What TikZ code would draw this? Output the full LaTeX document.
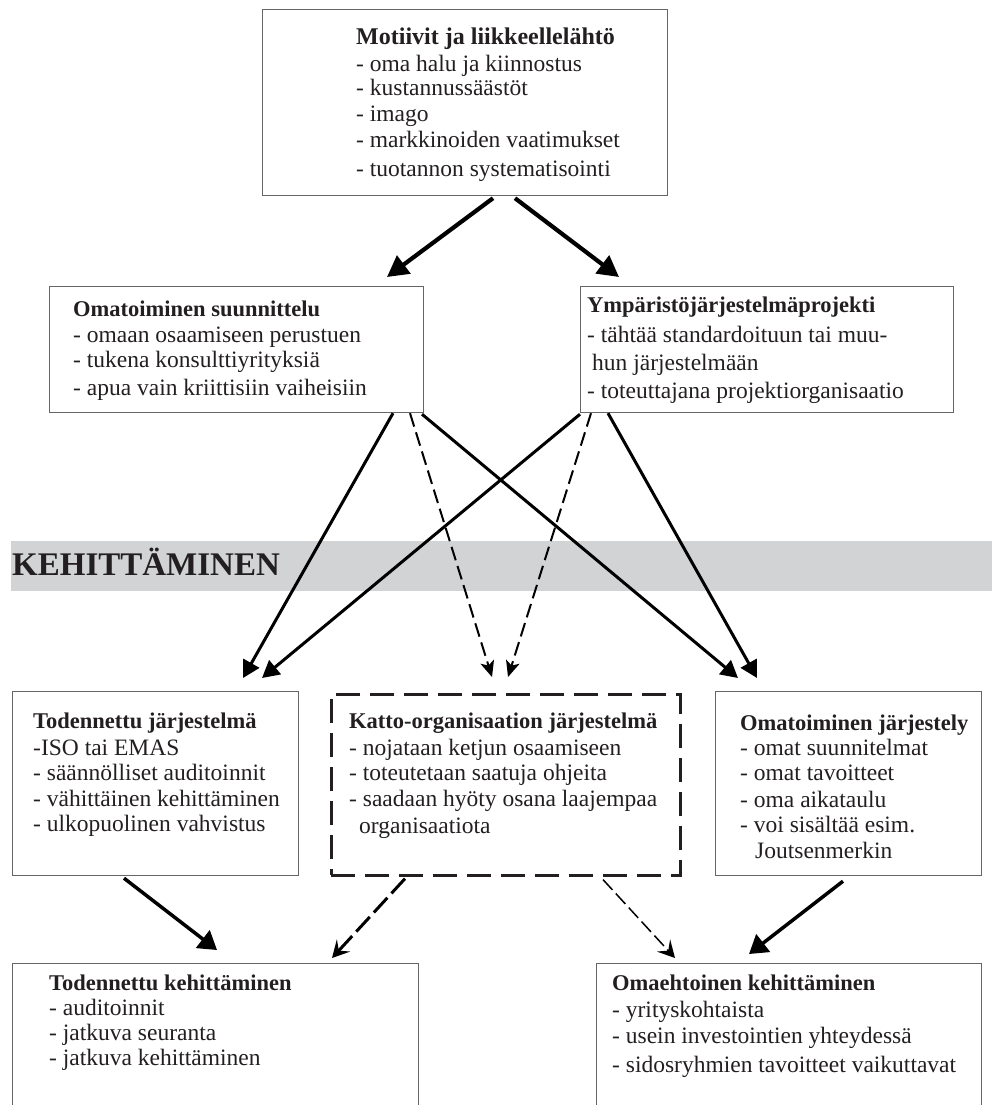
\documentclass[tikz,border=0pt]{standalone}
\usepackage{fontspec}
\setmainfont{Liberation Serif}
\usetikzlibrary{arrows.meta,calc}
\definecolor{ink}{HTML}{231F20}
\definecolor{bandgray}{HTML}{D1D3D4}
\definecolor{frame}{HTML}{666666}
\newcommand\mylines[1]{\begin{tabular}[t]{@{}l@{}}#1\end{tabular}}
\newcommand\ttl[1]{{\fontsize{22.5}{24}\selectfont\bfseries #1}}
\begin{document}
\begin{tikzpicture}[x=1pt,y=-1pt,
  box/.style={draw=frame, line width=1.2pt, inner sep=0pt, anchor=north west},
  dbox/.style={draw=ink, line width=2.6pt, dash pattern=on 24pt off 10pt, inner sep=0pt, anchor=north west},
  txt/.style={anchor=base west, inner sep=0pt, text=ink, font=\fontsize{23.5}{24}\selectfont},
  bigarr/.style={draw=black, line width=4.2pt, -{Triangle[length=21pt,width=22pt]}},
  midarr/.style={draw=black, line width=3pt, -{Triangle[length=17pt,width=18pt]}},
  lowarr/.style={draw=black, line width=3.5pt, -{Triangle[length=18pt,width=22pt]}},
  middash/.style={draw=black, line width=2pt, dash pattern=on 14pt off 6pt, -{Stealth[length=16pt,width=14pt,inset=4pt]}},
  lowdash/.style={draw=black, line width=3pt, dash pattern=on 20pt off 6pt, -{Stealth[length=17pt,width=18pt,inset=7pt]}},
  thindash/.style={draw=black, line width=1.5pt, dash pattern=on 14pt off 5pt, -{Stealth[length=17pt,width=18pt,inset=7pt]}}
]
\useasboundingbox (0,0) rectangle (992,1105);

% grey band
\node[fill=bandgray, anchor=north west, inner sep=0pt, minimum width=981pt, minimum height=50pt] (band) at (11,541) {};
\node[anchor=base west, inner sep=0pt, text=ink, font=\fontsize{33}{36}\selectfont\bfseries] (bandtext) at (12,575) {KEHITTÄMINEN};

% boxes
\node[box, minimum width=405pt, minimum height=186pt] (top) at (262,9) {};
\node[box, minimum width=374pt, minimum height=126pt] (ml) at (49,286) {};
\node[box, minimum width=373pt, minimum height=126pt] (mr) at (580,286) {};
\node[box, minimum width=286pt, minimum height=184pt] (tj) at (12,691) {};
\node[dbox, minimum width=349pt, minimum height=181pt] (ko) at (330,693) {};
\node[box, minimum width=266pt, minimum height=184pt] (oj) at (715,691) {};
\node[box, minimum width=406pt, minimum height=160pt] (tk) at (12,963) {};
\node[box, minimum width=385pt, minimum height=160pt] (oe) at (596,963) {};

% texts
\node[txt] (ttop) at (356,45) {\mylines{{\fontsize{24}{24}\selectfont\bfseries Motiivit ja liikkeellelähtö}\\[3pt]
 - oma halu ja kiinnostus\\
 - kustannussäästöt\\[2pt]
 - imago\\[2pt]
 - markkinoiden vaatimukset\\[5pt]
 - tuotannon systematisointi}};
\node[txt] (tml) at (73,316) {\mylines{\ttl{Omatoiminen suunnittelu}\\[2pt]
 - omaan osaamiseen perustuen\\[1pt]
 - tukena konsulttiyrityksiä\\[4pt]
 - apua vain kriittisiin vaiheisiin}};
\node[txt] (tmr) at (587,312) {\mylines{\ttl{Ympäristöjärjestelmäprojekti}\\[6pt]
 - tähtää standardoituun tai muu-\\[4pt]
 \hspace{5pt}hun järjestelmään\\[4pt]
 - toteuttajana projektiorganisaatio}};
\node[txt] (ttj) at (33,728) {\mylines{\ttl{Todennettu järjestelmä}\\[3pt]
 -ISO tai EMAS\\[1pt]
 - säännölliset auditoinnit\\[2pt]
 - vähittäinen kehittäminen\\[1pt]
 - ulkopuolinen vahvistus}};
\node[txt] (tko) at (349,728) {\mylines{\ttl{Katto-organisaation järjestelmä}\\[3pt]
 - nojataan ketjun osaamiseen\\[1pt]
 - toteutetaan saatuja ohjeita\\[2pt]
 - saadaan hyöty osana laajempaa\\[3pt]
 \hspace{10pt}organisaatiota}};
\node[txt] (toj) at (740,730) {\mylines{\ttl{Omatoiminen järjestely}\\[1pt]
 - omat suunnitelmat\\[1pt]
 - omat tavoitteet\\[3pt]
 - oma aikataulu\\[1pt]
 - voi sisältää esim.\\[2pt]
 \hspace{15pt}Joutsenmerkin}};
\node[txt] (ttk) at (49,990) {\mylines{\ttl{Todennettu kehittäminen}\\[1pt]
 - auditoinnit\\[1pt]
 - jatkuva seuranta\\[1pt]
 - jatkuva kehittäminen}};
\node[txt] (toe) at (612,990) {\mylines{\ttl{Omaehtoinen kehittäminen}\\[3pt]
 - yrityskohtaista\\[2pt]
 - usein investointien yhteydessä\\[5pt]
 - sidosryhmien tavoitteet vaikuttavat}};

% arrow end coordinates
\coordinate (mlin) at ($(ml.north west)+(338,-9)$);
\coordinate (mrin) at ($(mr.north west)+(39,-9)$);
\coordinate (tjinA) at ($(tj.north west)+(231,-13)$);
\coordinate (tjinB) at ($(tj.north west)+(250,-13)$);
\coordinate (koinA) at ($(ko.north west)+(162,-16)$);
\coordinate (koinB) at ($(ko.north west)+(178,-16)$);
\coordinate (ojinA) at ($(oj.north west)+(23,-13)$);
\coordinate (ojinB) at ($(oj.north west)+(42,-13)$);
\coordinate (tkinA) at ($(tk.north west)+(205,-13)$);
\coordinate (tkinB) at ($(tk.north west)+(320,-5)$);
\coordinate (oeinA) at ($(oe.north west)+(79,-5)$);
\coordinate (oeinB) at ($(oe.north west)+(153,-9)$);

% arrows
\draw[bigarr] ($(top.south west)+(231,2)$) -- (mlin);
\draw[bigarr] ($(top.south west)+(253,2)$) -- (mrin);

\draw[midarr] ($(ml.south west)+(344,0)$) -- (tjinA);
\draw[midarr] ($(mr.south west)+(0,1)$) -- (tjinB);
\draw[midarr] ($(ml.south west)+(373,1)$) -- (ojinA);
\draw[midarr] ($(mr.south west)+(28,0)$) -- (ojinB);
\draw[middash] ($(ml.south west)+(361,0)$) -- (koinA);
\draw[middash] ($(mr.south west)+(11,0)$) -- (koinB);

\draw[lowarr] ($(tj.south west)+(112,2)$) -- (tkinA);
\draw[lowdash] ($(ko.south west)+(75,2)$) -- (tkinB);
\draw[thindash] ($(ko.south west)+(273,3)$) -- (oeinA);
\draw[lowarr] ($(oj.south west)+(128,5)$) -- (oeinB);
\end{tikzpicture}
\end{document}
